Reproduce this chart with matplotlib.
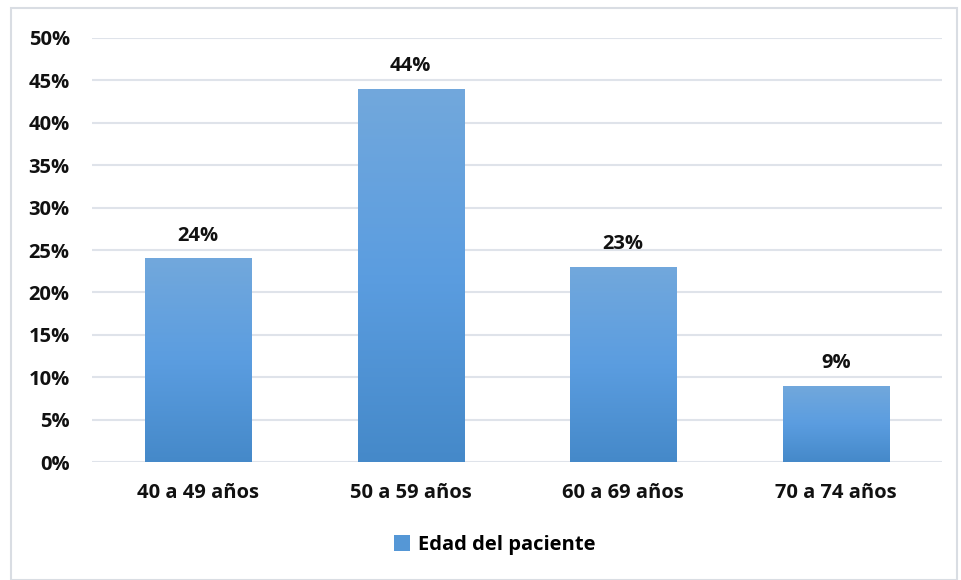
import numpy as np
import matplotlib.pyplot as plt
from matplotlib.patches import Rectangle, Patch
from matplotlib.colors import LinearSegmentedColormap

# data
grupos = ["40 a 49 años", "50 a 59 años", "60 a 69 años", "70 a 74 años"]
porcentajes = [24, 44, 23, 9]
serie = "Edad del paciente"

plt.rcParams['font.family'] = ['Open Sans', 'DejaVu Sans']
plt.rcParams['font.weight'] = 'bold'

fig = plt.figure(figsize=(9.61, 5.80), dpi=100)
ax = fig.add_axes([0.0957, 0.2034, 0.8845, 0.7311])

# light border around the whole chart area
fig.patches.append(Rectangle((0.011, 0.0), 0.985, 0.986, transform=fig.transFigure,
                             fill=False, edgecolor="#d9dde3", linewidth=1.5))

x = np.arange(len(grupos))
bars = ax.bar(x, porcentajes, width=0.5, color="none", edgecolor="none", zorder=2)

# vertical gradient, lighter at top
cmap = LinearSegmentedColormap.from_list("azul", ["#4589c9", "#5b9de0", "#72a8dc"])
grad = np.linspace(0, 1, 256).reshape(-1, 1)
for b in bars:
    x0, y0 = b.get_x(), b.get_y()
    w, h = b.get_width(), b.get_height()
    im = ax.imshow(grad, extent=[x0, x0 + w, 0, h], origin="lower", cmap=cmap,
                   aspect="auto", zorder=2)
    im.set_clip_path(b)
    ax.annotate(f"{int(b.get_height())}%", (x0 + w / 2, h), xytext=(0, 9),
                textcoords="offset points", ha="center", va="bottom",
                fontsize=14.5, fontweight="bold", color="#111111")

ax.set_xlim(-0.5, len(grupos) - 0.5)
ax.set_ylim(0, 50)
ax.set_yticks(range(0, 51, 5))
ax.set_yticklabels([f"{v}%" for v in range(0, 51, 5)])
ax.set_xticks(x)
ax.set_xticklabels(grupos)
ax.tick_params(axis="both", length=0, labelsize=14.5, colors="#111111")
ax.tick_params(axis="x", pad=15)
ax.tick_params(axis="y", pad=16)
for lab in ax.get_xticklabels() + ax.get_yticklabels():
    lab.set_fontweight("bold")

ax.grid(axis="y", color="#dfe3ea", linewidth=1.5, zorder=0)
ax.set_axisbelow(True)
for s in ax.spines.values():
    s.set_visible(False)

handle = Patch(facecolor="#5597d6", edgecolor="none")
fig.legend([handle], [serie], loc="center", bbox_to_anchor=(0.515, 0.06),
           frameon=False, handlelength=0.8, handleheight=0.8, handletextpad=0.4,
           prop={"size": 14.5, "weight": "bold"})

fig.savefig("out.png", dpi=100)
